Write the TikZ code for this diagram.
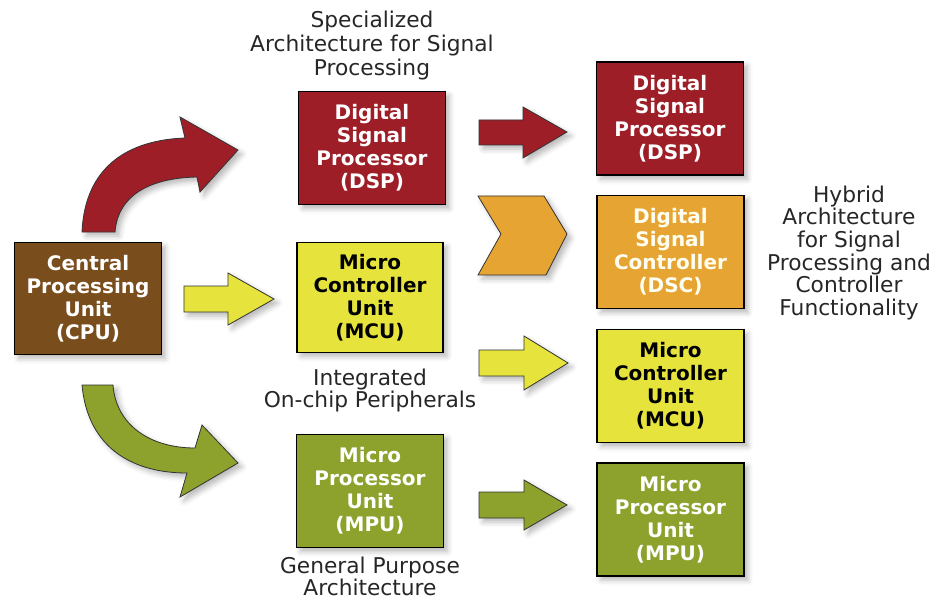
\documentclass[tikz,border=0pt]{standalone}
\usepackage{fontspec}
\setmainfont{DejaVu Sans}
\usetikzlibrary{shadows.blur}

\definecolor{dspred}{RGB}{158,30,40}
\definecolor{cpubrown}{RGB}{122,78,28}
\definecolor{mcuyellow}{RGB}{230,228,60}
\definecolor{dscorange}{RGB}{230,165,50}
\definecolor{mpugreen}{RGB}{140,162,45}

\tikzset{
  softshadow/.style={blur shadow={shadow xshift=3pt, shadow yshift=-3pt,
      shadow blur radius=4pt, shadow opacity=28}},
  unitbox/.style={draw=black, line width=1.2pt, softshadow,
      minimum width=110pt, minimum height=85pt, inner sep=0pt,
      align=center, font=\fontsize{15}{17.25}\selectfont\bfseries},
  whitetext/.style={text=white},
  blacktext/.style={text=black},
  blockarrow/.style={draw=black!80, line width=0.6pt, softshadow, line join=miter},
  caption/.style={align=center, inner sep=1pt, text=black!85, font=\fontsize{16.3}{18}\selectfont},
}

\begin{document}
\begin{tikzpicture}[x=0.75pt, y=-0.75pt]
\useasboundingbox (0,0) rectangle (935,599);

% curved arrows leaving the CPU
\path[blockarrow, fill=dspred]
  (82,232) -- (115,232) .. controls (118,195) and (150,178) .. (197,177)
  -- (200,192) -- (238,150) -- (180,117) -- (185,138)
  .. controls (130,140) and (85,165) .. (82,232) -- cycle;
\path[blockarrow, fill=mpugreen]
  (82,385) -- (113,385) .. controls (116,425) and (150,448) .. (195,448)
  -- (202,425) -- (238,463) -- (180,497) -- (187,473)
  .. controls (135,473) and (88,450) .. (82,385) -- cycle;

% straight arrows
\path[blockarrow, fill=mcuyellow]
  (184,286) -- (228,286) -- (228,273) -- (274,299) -- (228,325) -- (228,312) -- (184,312) -- cycle;
\path[blockarrow, fill=dspred]
  (479,120) -- (523,120) -- (523,107) -- (567,132) -- (523,158) -- (523,145) -- (479,145) -- cycle;
\path[blockarrow, fill=mcuyellow]
  (479,350) -- (524,350) -- (524,336) -- (568,363) -- (524,390) -- (524,376) -- (479,376) -- cycle;
\path[blockarrow, fill=mpugreen]
  (479,492) -- (524,492) -- (524,480) -- (567,505) -- (524,530) -- (524,518) -- (479,518) -- cycle;

% chevron into the signal controller
\path[blockarrow, fill=dscorange]
  (478,196) -- (544,196) -- (567,234) -- (546,275) -- (478,275) -- (501,234) -- cycle;

% processing units
\node[unitbox, whitetext, fill=cpubrown, minimum height=84pt] (cpu) at (88,298.5)
  {Central\\Processing\\Unit\\(CPU)};
\node[unitbox, whitetext, fill=dspred] (dsp) at (372,148)
  {Digital\\Signal\\Processor\\(DSP)};
\node[unitbox, blacktext, fill=mcuyellow, minimum width=109.5pt, minimum height=82.5pt] (mcu) at (370,297.5)
  {Micro\\Controller\\Unit\\(MCU)};
\node[unitbox, whitetext, fill=mpugreen] (mpu) at (370,491)
  {Micro\\Processor\\Unit\\(MPU)};

\node[unitbox, whitetext, fill=dspred] (dsp2) at (670,118.5)
  {Digital\\Signal\\Processor\\(DSP)};
\node[unitbox, text=white!95!yellow, fill=dscorange] (dsc) at (670.5,252)
  {Digital\\Signal\\Controller\\(DSC)};
\node[unitbox, blacktext, fill=mcuyellow] (mcu2) at (670.5,386)
  {Micro\\Controller\\Unit\\(MCU)};
\node[unitbox, whitetext, fill=mpugreen] (mpu2) at (670.5,519.5)
  {Micro\\Processor\\Unit\\(MPU)};

% captions
\node[caption] (capdsp) at (372,46)
  {Specialized\\Architecture for Signal\\Processing};
\node[caption, font=\fontsize{16.3}{16.5}\selectfont] (capmcu) at (370,391)
  {Integrated\\On-chip Peripherals};
\node[caption, font=\fontsize{16.3}{16.5}\selectfont] (capmpu) at (370,576)
  {General Purpose\\Architecture};
\node[caption, font=\fontsize{16.3}{17}\selectfont] (caphybrid) at (849,253)
  {Hybrid\\Architecture\\for Signal\\Processing and\\Controller\\Functionality};
\end{tikzpicture}
\end{document}
